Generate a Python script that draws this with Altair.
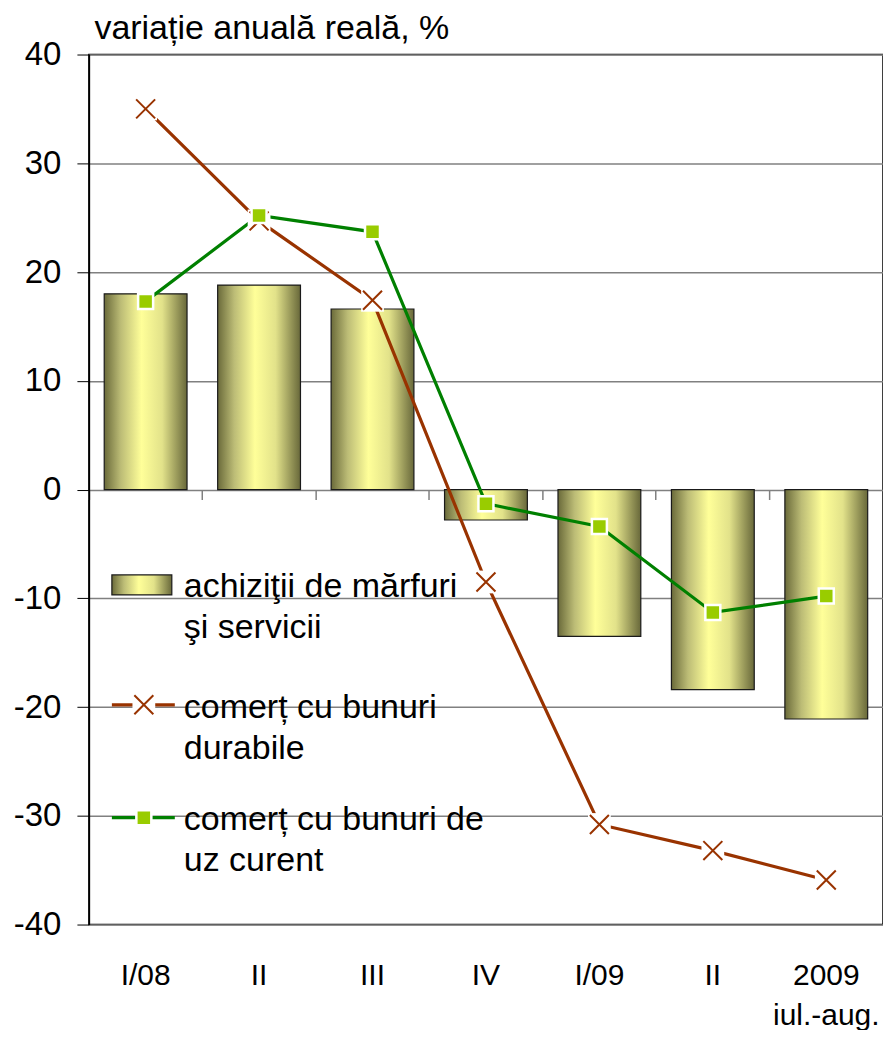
import altair as alt
import pandas as pd

# ---- data ----
keys = ["K1", "K2", "K3", "K4", "K5", "K6", "K7"]
labels = ["I/08", "II", "III", "IV", "I/09", "II", "2009|iul.-aug."]
achizitii = [18.0, 18.8, 16.6, -2.8, -13.5, -18.4, -21.1]
durabile = [35.0, 24.7, 17.4, -8.5, -30.8, -33.2, -35.9]
uz_curent = [17.3, 25.2, 23.7, -1.3, -3.4, -11.3, -9.8]

df = pd.DataFrame({"key": keys, "label": labels, "achizitii": achizitii,
                   "durabile": durabile, "uz_curent": uz_curent})

FONT = "Liberation Sans"
W, H = 795, 871
BROWN = "#993300"
GREEN = "#008000"
SQ = "#99cc00"

label_expr = " : ".join(
    f"datum.value === '{k}' ? split('{l}', '|')" for k, l in zip(keys, labels)
) + " : datum.value"

xscale = alt.Scale(type="band", domain=keys, paddingInner=0.27, paddingOuter=0.135)
xaxis = alt.Axis(title=None, labelExpr=label_expr, ticks=False, domain=False, grid=False,
                 labelFontSize=30, labelFont=FONT, labelColor="black", labelPadding=36,
                 labelLineHeight=40, labelBaseline="top", labelAngle=0)
yscale = alt.Scale(domain=[-40, 40], nice=False)
yaxis = alt.Axis(title="variație anuală reală, %", titleAngle=0, titleAlign="left",
                 titleBaseline="alphabetic", titleX=5, titleY=-16, titleFontSize=34,
                 titleFont=FONT, titleFontWeight="normal", titleColor="black",
                 values=list(range(-40, 41, 10)),
                 labelExpr="datum.value < 0 ? '-' + abs(datum.value) : '' + datum.value",
                 labelFontSize=33, labelFont=FONT,
                 labelColor="black", labelPadding=16, tickSize=12, tickColor="black",
                 domainColor="black", domainWidth=1.5, gridColor="#808080", gridWidth=1.5)

X = alt.X("key:N", sort=keys, scale=xscale, axis=xaxis)

gradient = alt.LinearGradient(
    gradient="linear", x1=0, x2=1, y1=0, y2=0,
    stops=[alt.GradientStop(offset=0, color="#6a6a3a"),
           alt.GradientStop(offset=0.2, color="#bcbc76"),
           alt.GradientStop(offset=0.45, color="#ffff99"),
           alt.GradientStop(offset=0.7, color="#e2e28a"),
           alt.GradientStop(offset=1, color="#68683a")])

base = alt.Chart(df)
bars = base.mark_bar(color=gradient, stroke="#1a1a1a", strokeWidth=1.2).encode(
    x=X, y=alt.Y("achizitii:Q", scale=yscale, axis=yaxis))
line_d = base.mark_line(color=BROWN, strokeWidth=3.2).encode(
    x=X, y=alt.Y("durabile:Q", scale=yscale, axis=yaxis))
line_c = base.mark_line(color=GREEN, strokeWidth=3.2).encode(
    x=X, y=alt.Y("uz_curent:Q", scale=yscale, axis=yaxis))
bg_d = base.mark_point(shape="square", filled=True, color="white", size=520, opacity=1).encode(
    x=X, y=alt.Y("durabile:Q", scale=yscale, axis=yaxis))
x_d = base.mark_point(shape="M-1,-1L1,1M1,-1L-1,1", filled=False, stroke=BROWN,
                      strokeWidth=2, size=361, opacity=1).encode(
    x=X, y=alt.Y("durabile:Q", scale=yscale, axis=yaxis))
sq_c = base.mark_point(shape="square", filled=True, fill=SQ, stroke="white",
                       strokeWidth=2.5, size=225, opacity=1).encode(
    x=X, y=alt.Y("uz_curent:Q", scale=yscale, axis=yaxis))

# ---- legend (drawn inside the plot) ----
one = alt.Data(values=[{}])
leg_rect = alt.Chart(one).mark_rect(color=gradient, stroke="#1a1a1a", strokeWidth=1.2).encode(
    x=alt.value(23), x2=alt.value(83), y=alt.value(521), y2=alt.value(541))
leg_line_d = alt.Chart(one).mark_rule(color=BROWN, strokeWidth=3.2).encode(
    x=alt.value(23), x2=alt.value(86), y=alt.value(651))
leg_bg_d = alt.Chart(one).mark_point(shape="square", filled=True, color="white", size=520,
                                     opacity=1).encode(x=alt.value(55), y=alt.value(651))
leg_x_d = alt.Chart(one).mark_point(shape="M-1,-1L1,1M1,-1L-1,1", filled=False, stroke=BROWN,
                                    strokeWidth=2, size=361, opacity=1).encode(
    x=alt.value(55), y=alt.value(651))
leg_line_c = alt.Chart(one).mark_rule(color=GREEN, strokeWidth=3.2).encode(
    x=alt.value(23), x2=alt.value(86), y=alt.value(764))
leg_sq_c = alt.Chart(one).mark_point(shape="square", filled=True, fill=SQ, stroke="white",
                                     strokeWidth=2.5, size=225, opacity=1).encode(
    x=alt.value(55), y=alt.value(764))


def leg_text(txt, y):
    return alt.Chart(one).mark_text(align="left", baseline="alphabetic", fontSize=34,
                                    font=FONT, color="black", lineBreak="|",
                                    lineHeight=41).encode(
        x=alt.value(95), y=alt.value(y), text=alt.value(txt))


t1 = leg_text("achiziţii de mărfuri|şi servicii", 543)
t2 = leg_text("comerț cu bunuri|durabile", 664)
t3 = leg_text("comerț cu bunuri de|uz curent", 776)

main = alt.layer(bars, line_d, line_c, bg_d, x_d, sq_c,
                 leg_rect, leg_line_d, leg_bg_d, leg_x_d, leg_line_c, leg_sq_c,
                 t1, t2, t3)

# category boundary ticks on the zero line
ticks = base.mark_bar(opacity=0).encode(
    x=alt.X("key:N", sort=keys,
            scale=alt.Scale(type="band", domain=keys, paddingInner=0, paddingOuter=0),
            axis=alt.Axis(title=None, labels=False, domain=False, grid=False, ticks=True,
                          tickSize=10, tickColor="#808080", tickWidth=1.5, bandPosition=0,
                          offset=-(H / 2), orient="bottom")))

chart = alt.layer(main, ticks).resolve_scale(x="independent").resolve_axis(
    x="independent").properties(
    width=W, height=H,
    autosize=alt.AutoSizeParams(type="none"),
    padding={"left": 81, "top": 46, "right": 0, "bottom": 105},
).configure_view(stroke="black", strokeWidth=1.5)

chart.save("out.html", embed_options={"renderer": "svg", "actions": False})
